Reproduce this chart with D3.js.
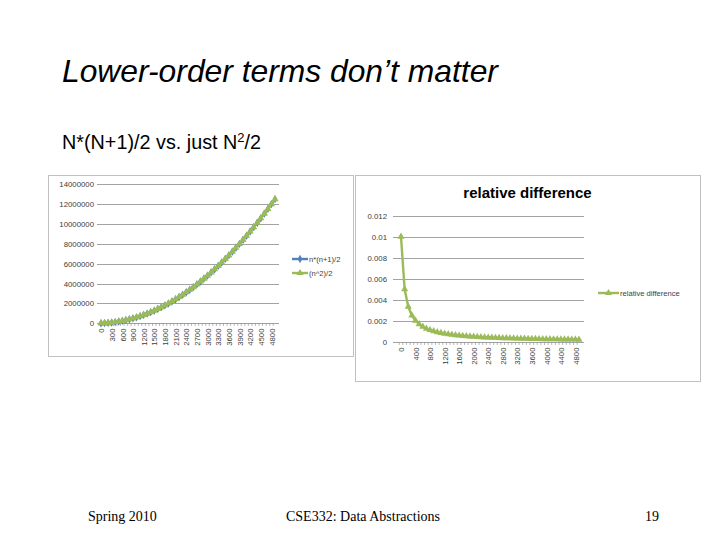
<!DOCTYPE html>
<html><head><meta charset="utf-8">
<script src="https://cdn.jsdelivr.net/npm/d3@7"></script>
<style>body{margin:0;background:#fff}svg{display:block}</style>
</head><body>
<svg id="c" width="720" height="540"></svg>
<script>
// ---- data ----
const categories = [0,100,200,300,400,500,600,700,800,900,1000,1100,1200,1300,1400,1500,1600,1700,1800,1900,2000,2100,2200,2300,2400,2500,2600,2700,2800,2900,3000,3100,3200,3300,3400,3500,3600,3700,3800,3900,4000,4100,4200,4300,4400,4500,4600,4700,4800,4900];
const seriesNames1 = ["n*(n+1)/2", "(n^2)/2"];
const nTimesNPlus1Over2 = [5050,20100,45150,80200,125250,180300,245350,320400,405450,500500,605550,720600,845650,980700,1125750,1280800,1445850,1620900,1805950,2001000,2206050,2421100,2646150,2881200,3126250,3381300,3646350,3921400,4206450,4501500,4806550,5121600,5446650,5781700,6126750,6481800,6846850,7221900,7606950,8002000,8407050,8822100,9247150,9682200,10127250,10582300,11047350,11522400,12007450,12502500];
const nSquaredOver2 = [5000,20000,45000,80000,125000,180000,245000,320000,405000,500000,605000,720000,845000,980000,1125000,1280000,1445000,1620000,1805000,2000000,2205000,2420000,2645000,2880000,3125000,3380000,3645000,3920000,4205000,4500000,4805000,5120000,5445000,5780000,6125000,6480000,6845000,7220000,7605000,8000000,8405000,8820000,9245000,9680000,10125000,10580000,11045000,11520000,12005000,12500000];
const relativeDifference = [0.01,0.005,0.00333,0.0025,0.002,0.00167,0.00143,0.00125,0.00111,0.001,0.000909,0.000833,0.000769,0.000714,0.000667,0.000625,0.000588,0.000556,0.000526,0.0005,0.000476,0.000455,0.000435,0.000417,0.0004,0.000385,0.00037,0.000357,0.000345,0.000333,0.000323,0.000313,0.000303,0.000294,0.000286,0.000278,0.00027,0.000263,0.000256,0.00025,0.000244,0.000238,0.000233,0.000227,0.000222,0.000217,0.000213,0.000208,0.000204,0.0002];
const yTicks1 = [0,2000000,4000000,6000000,8000000,10000000,12000000,14000000];
const yTicks2 = [0,0.002,0.004,0.006,0.008,0.01,0.012];
const xLabels1 = [0,300,600,900,1200,1500,1800,2100,2400,2700,3000,3300,3600,3900,4200,4500,4800];
const xLabels2 = [0,400,800,1200,1600,2000,2400,2800,3200,3600,4000,4400,4800];
const seriesName2 = "relative difference";

const svg = d3.select("#c");
const BLUE = "#4F81BD", GREEN = "#9BBB59", GRID = "#8c8c8c", TXT = "#404040";

// ---- slide text ----
svg.append("text").attr("x",62).attr("y",82).attr("font-family","Arial, Liberation Sans, sans-serif")
  .attr("font-size",31.8).attr("font-style","italic").attr("fill","#000").text("Lower-order terms don’t matter");
const sub = svg.append("text").attr("x",62).attr("y",149).attr("font-family","Arial, Liberation Sans, sans-serif")
  .attr("font-size",19.8).attr("fill","#000");
sub.append("tspan").text("N*(N+1)/2 vs. just N");
sub.append("tspan").attr("font-size",13).attr("dy",-7.5).text("2");
sub.append("tspan").attr("dy",7.5).text("/2");

const foot = {"font-family":"Liberation Serif, Times New Roman, serif","font-size":14,"fill":"#000"};
function ft(x,anchor,t){const e=svg.append("text").attr("x",x).attr("y",521).attr("text-anchor",anchor).text(t);for(const k in foot)e.attr(k,foot[k]);}
ft(88,"start","Spring 2010"); ft(363,"middle","CSE332: Data Abstractions"); ft(659,"end","19");

// ---- chart frames ----
svg.append("rect").attr("x",48.5).attr("y",175.5).attr("width",305).attr("height",181).attr("fill","#fff").attr("stroke","#c0c0c0");
svg.append("rect").attr("x",355.5).attr("y",175.5).attr("width",345).attr("height",206).attr("fill","#fff").attr("stroke","#c0c0c0");

function marker(g, type, x, y, color){
  const s = type==="diamond" ? d3.symbolDiamond : d3.symbolTriangle;
  g.append("path").attr("d", d3.symbol().type(s).size(type==="diamond"?20:22)()).attr("transform",`translate(${x},${y})`).attr("fill",color);
}

function chart(opt){
  const g = svg.append("g");
  const x = d3.scalePoint().domain(categories).range([opt.x0, opt.x1]);
  const y = d3.scaleLinear().domain([0, opt.yMax]).range([opt.yBottom, opt.yTop]);
  g.append("g").selectAll("line").data(opt.yTicks.filter(d=>d>0)).join("line")
    .attr("x1",opt.gx0).attr("x2",opt.gx1).attr("y1",d=>Math.round(y(d))+0.5).attr("y2",d=>Math.round(y(d))+0.5)
    .attr("stroke",GRID).attr("stroke-width",0.8);
  const ya = g.append("g").attr("transform",`translate(${opt.gx0},0)`)
    .call(d3.axisLeft(y).tickValues(opt.yTicks).tickSize(0).tickPadding(opt.yPad).tickFormat(opt.yFmt));
  ya.select(".domain").remove();
  ya.selectAll("text").attr("font-family","Arial, Liberation Sans, sans-serif").attr("font-size",7.8).attr("fill",TXT);
  const xa = g.append("g").attr("transform",`translate(0,${Math.round(opt.yBottom)+0.5})`)
    .call(d3.axisBottom(x).tickValues(opt.xLabels).tickSize(0).tickPadding(0));
  xa.select(".domain").remove();
  g.append("line").attr("x1",opt.gx0).attr("x2",opt.gx1).attr("y1",Math.round(opt.yBottom)+0.5).attr("y2",Math.round(opt.yBottom)+0.5).attr("stroke",GRID).attr("stroke-width",0.8);
  const step = x.step();
  g.append("g").selectAll("line").data(categories).join("line")
    .attr("x1",d=>x(d)-step/2).attr("x2",d=>x(d)-step/2)
    .attr("y1",Math.round(opt.yBottom)).attr("y2",Math.round(opt.yBottom)+3).attr("stroke",GRID).attr("stroke-width",0.6);
  xa.selectAll("text").attr("font-family","Arial, Liberation Sans, sans-serif").attr("font-size",7.8).attr("fill",TXT)
    .attr("transform","rotate(-90)").attr("text-anchor","end").attr("x",-5).attr("y",0).attr("dy","0.35em");
  opt.series.forEach(s=>{
    const line = d3.line().x((d,i)=>x(categories[i])).y(d=>y(d));
    g.append("path").datum(s.values).attr("d",line).attr("fill","none").attr("stroke",s.color).attr("stroke-width",2.4).attr("stroke-linejoin","round");
    s.values.forEach((v,i)=>marker(g, s.marker, x(categories[i]), y(v), s.color));
  });
  opt.series.forEach((s,i)=>{
    const ly = opt.legY + i*opt.legDy;
    g.append("line").attr("x1",opt.legX).attr("x2",opt.legX+opt.legW).attr("y1",ly).attr("y2",ly).attr("stroke",s.color).attr("stroke-width",2.4);
    marker(g, s.marker, opt.legX+opt.legW/2, ly, s.color);
    g.append("text").attr("x",opt.legX+opt.legW+1).attr("y",ly).attr("dy","0.35em")
      .attr("font-family","Arial, Liberation Sans, sans-serif").attr("font-size",7.6).attr("fill",TXT).text(s.name);
  });
  return g;
}

chart({
  x0:101, x1:275, gx0:97, gx1:279, yBottom:323.3, yTop:184.3, yMax:14000000,
  yTicks:yTicks1, yFmt:d3.format("d"), yPad:3, xLabels:xLabels1,
  series:[{name:seriesNames1[0],values:nTimesNPlus1Over2,color:BLUE,marker:"diamond"},
          {name:seriesNames1[1],values:nSquaredOver2,color:GREEN,marker:"triangle"}],
  legX:292, legW:16, legY:259, legDy:14
});

chart({
  x0:401, x1:579, gx0:393, gx1:584, yBottom:341.7, yTop:215.7, yMax:0.012,
  yTicks:yTicks2, yFmt:d=>d===0?"0":String(+d.toFixed(3)), yPad:6, xLabels:xLabels2,
  series:[{name:seriesName2,values:relativeDifference,color:GREEN,marker:"triangle"}],
  legX:598, legW:21, legY:293, legDy:0
});

svg.append("text").attr("x",527.5).attr("y",198).attr("text-anchor","middle")
  .attr("font-family","Arial, Liberation Sans, sans-serif").attr("font-weight","bold").attr("font-size",15).attr("fill","#000")
  .text("relative difference");
</script>
</body></html>
